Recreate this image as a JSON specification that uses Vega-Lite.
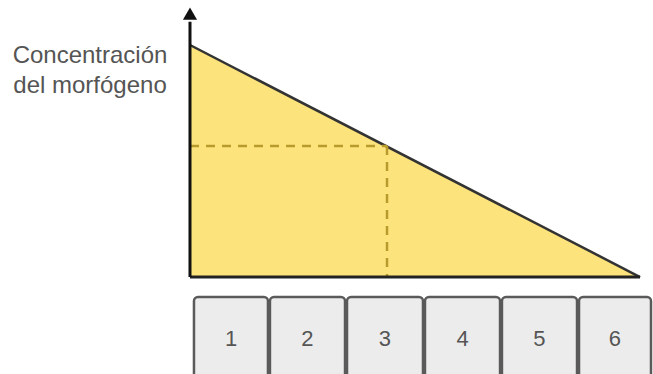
{
  "$schema": "https://vega.github.io/schema/vega-lite/v6.json",
  "width": 653,
  "height": 374,
  "autosize": {"type": "none"},
  "padding": 0,
  "background": "#ffffff",
  "config": {"view": {"stroke": null}},
  "datasets": {
    "tri": [{"pos": 0, "conc": 1, "base": 0}, {"pos": 5.87, "conc": 0, "base": 0}],
    "axisv": [{"pos": 0, "conc": 0}, {"pos": 0, "conc": 1.1}],
    "axish": [{"pos": 0, "conc": 0}, {"pos": 5.87, "conc": 0}],
    "arrow": [{"pos": 0, "conc": 1.135}],
    "dashh": [{"pos": 0, "conc": 0.565}, {"pos": 2.57, "conc": 0.565}],
    "dashv": [{"pos": 2.57, "conc": 0.565}, {"pos": 2.57, "conc": 0}],
    "cells": [
      {"cell": "1", "x0": 0.052, "x1": 1.017, "mid": 0.535},
      {"cell": "2", "x0": 1.043, "x1": 2.022, "mid": 1.532},
      {"cell": "3", "x0": 2.048, "x1": 3.039, "mid": 2.543},
      {"cell": "4", "x0": 3.065, "x1": 4.044, "mid": 3.555},
      {"cell": "5", "x0": 4.069, "x1": 5.048, "mid": 4.558},
      {"cell": "6", "x0": 5.074, "x1": 6.013, "mid": 5.543}
    ],
    "label": [
      {"txt": "Concentración", "pos": -1.304, "conc": 0.922},
      {"txt": "del morfógeno", "pos": -1.304, "conc": 0.793}
    ]
  },
  "layer": [
    {
      "data": {"name": "tri"},
      "mark": {"type": "area", "color": "#fce37c"},
      "encoding": {
        "x": {"field": "pos", "type": "quantitative", "scale": {"domain": [-2.478, 6.039], "nice": false, "zero": false}, "axis": null},
        "y": {"field": "conc", "type": "quantitative", "scale": {"domain": [-0.418, 1.194], "nice": false, "zero": false}, "axis": null},
        "y2": {"field": "base"}
      }
    },
    {
      "data": {"name": "tri"},
      "mark": {"type": "line", "color": "#333333", "strokeWidth": 2.5},
      "encoding": {
        "x": {"field": "pos", "type": "quantitative"},
        "y": {"field": "conc", "type": "quantitative"}
      }
    },
    {
      "data": {"name": "dashh"},
      "mark": {"type": "line", "color": "#b89b2c", "strokeWidth": 2.5, "strokeDash": [9, 7]},
      "encoding": {
        "x": {"field": "pos", "type": "quantitative"},
        "y": {"field": "conc", "type": "quantitative"}
      }
    },
    {
      "data": {"name": "dashv"},
      "mark": {"type": "line", "color": "#b89b2c", "strokeWidth": 2.5, "strokeDash": [9, 7]},
      "encoding": {
        "x": {"field": "pos", "type": "quantitative"},
        "y": {"field": "conc", "type": "quantitative"}
      }
    },
    {
      "data": {"name": "axish"},
      "mark": {"type": "line", "color": "#222222", "strokeWidth": 3},
      "encoding": {
        "x": {"field": "pos", "type": "quantitative"},
        "y": {"field": "conc", "type": "quantitative"}
      }
    },
    {
      "data": {"name": "axisv"},
      "mark": {"type": "line", "color": "#111111", "strokeWidth": 3},
      "encoding": {
        "x": {"field": "pos", "type": "quantitative"},
        "y": {"field": "conc", "type": "quantitative"}
      }
    },
    {
      "data": {"name": "arrow"},
      "mark": {"type": "point", "shape": "triangle-up", "filled": true, "color": "#111111", "size": 200, "opacity": 1},
      "encoding": {
        "x": {"field": "pos", "type": "quantitative"},
        "y": {"field": "conc", "type": "quantitative"}
      }
    },
    {
      "data": {"name": "cells"},
      "mark": {"type": "rect", "fill": "#ececec", "stroke": "#5a5a5a", "strokeWidth": 2.5, "cornerRadius": 4},
      "encoding": {
        "x": {"field": "x0", "type": "quantitative"},
        "x2": {"field": "x1"},
        "y": {"datum": -0.086, "type": "quantitative"},
        "y2": {"datum": -0.5}
      }
    },
    {
      "data": {"name": "cells"},
      "mark": {"type": "text", "font": "Liberation Sans", "fontSize": 22, "color": "#555555", "baseline": "middle", "align": "center"},
      "encoding": {
        "x": {"field": "mid", "type": "quantitative"},
        "y": {"datum": -0.267, "type": "quantitative"},
        "text": {"field": "cell"}
      }
    },
    {
      "data": {"name": "label"},
      "mark": {"type": "text", "font": "Liberation Sans", "fontSize": 24, "color": "#555555", "baseline": "alphabetic", "align": "center"},
      "encoding": {
        "x": {"field": "pos", "type": "quantitative"},
        "y": {"field": "conc", "type": "quantitative"},
        "text": {"field": "txt"}
      }
    }
  ]
}
